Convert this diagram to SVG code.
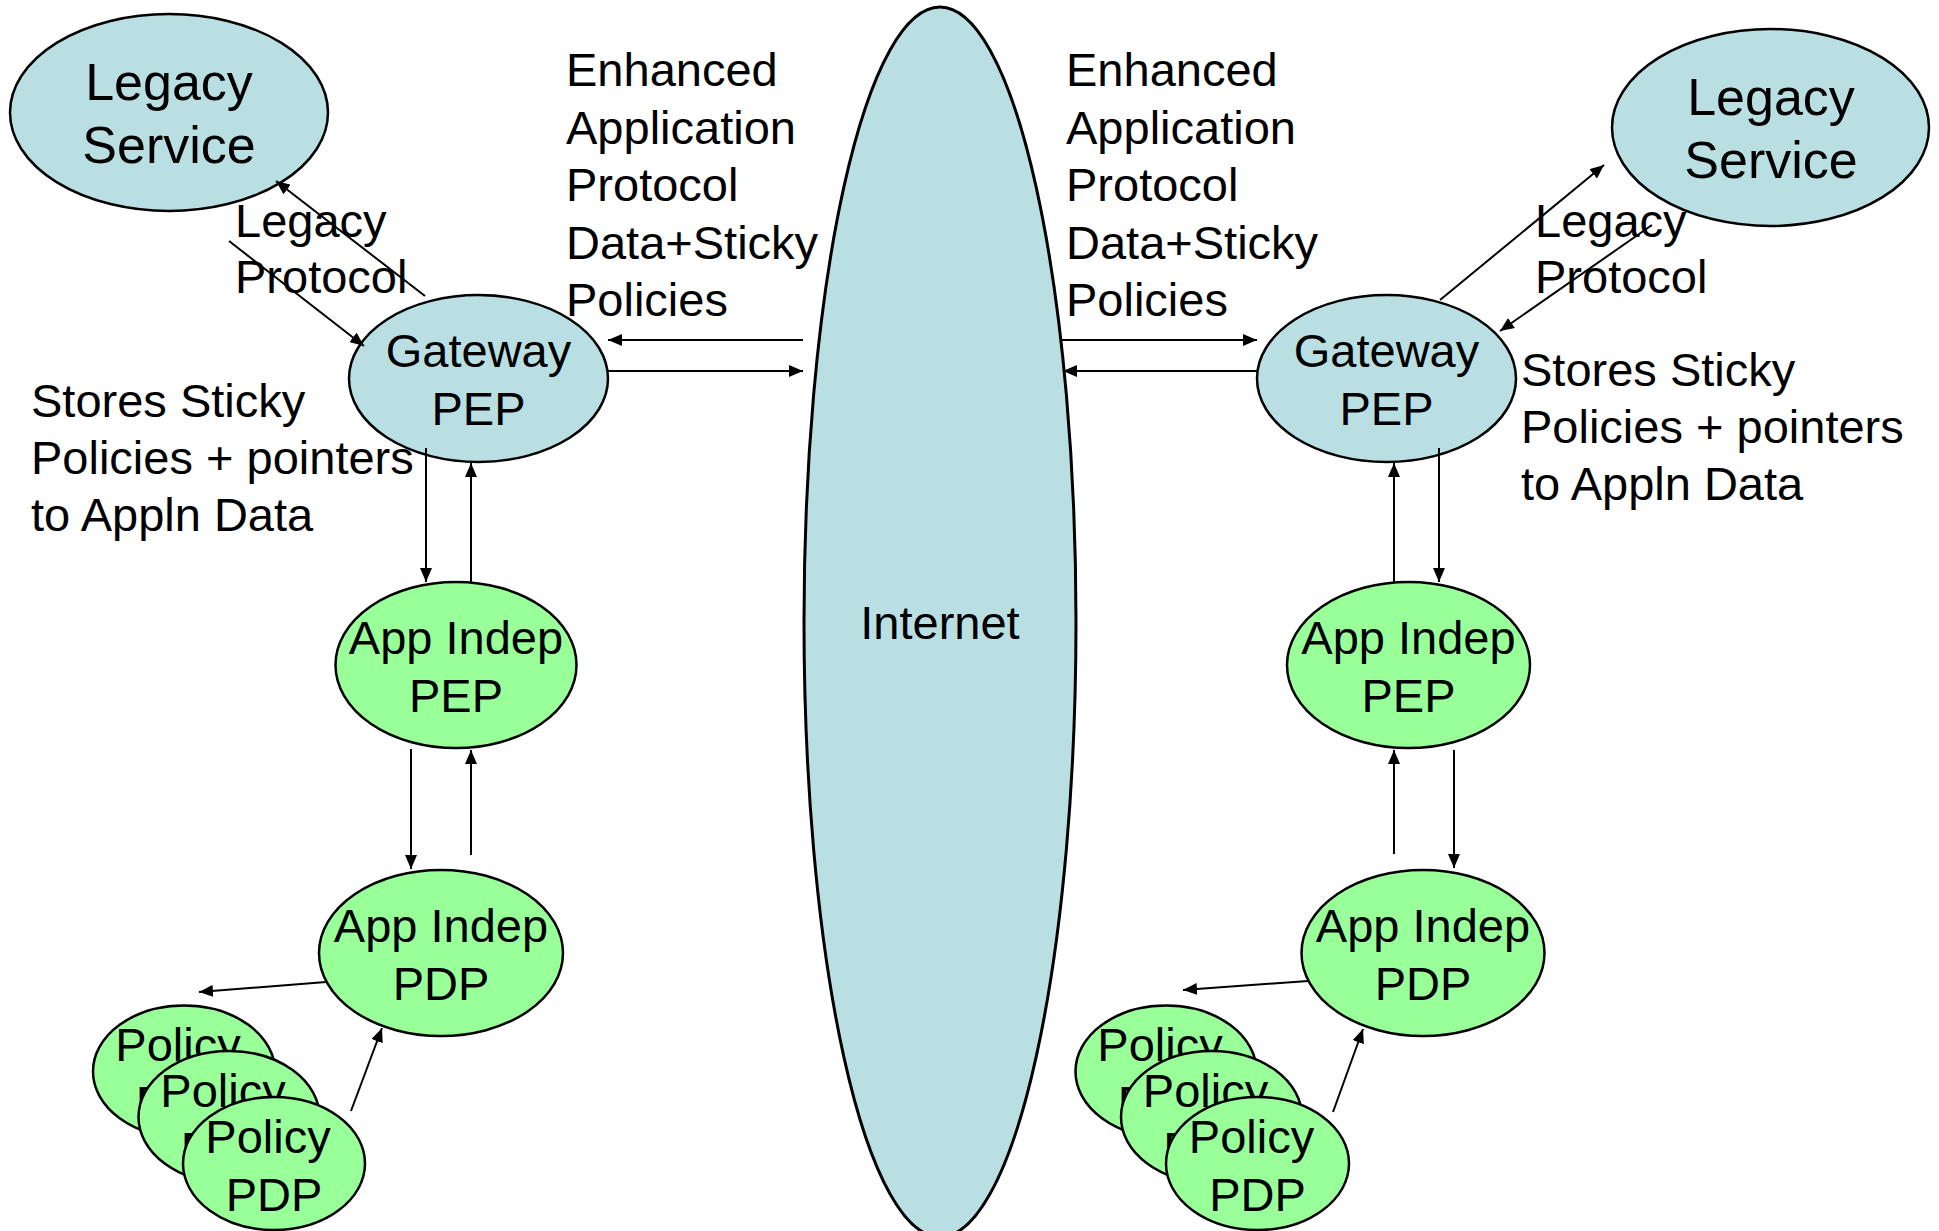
<svg xmlns="http://www.w3.org/2000/svg" width="1939" height="1231" viewBox="0 0 1939 1231">
<style>
  .blue { fill: #BADFE3; stroke: #000; stroke-width: 2.5; }
  .green { fill: #99FF99; stroke: #000; stroke-width: 2.5; }
  text { font-family: "Liberation Sans", Arial, sans-serif; font-size: 47px; fill: #000; }
  .c { text-anchor: middle; }
  .big { font-size: 52px; }
  #connectors line { stroke: #000; stroke-width: 2; fill: none; marker-end: url(#ah); }
</style>
<defs>
  <marker id="ah" markerUnits="userSpaceOnUse" viewBox="0 0 14 12" refX="14" refY="6" markerWidth="14" markerHeight="12" orient="auto">
    <path d="M0,0 L14,6 L0,12 z" fill="#000"/>
  </marker>
</defs>
<rect width="1939" height="1231" fill="#fff"/>

<g id="internet">
  <ellipse class="blue" cx="940" cy="622" rx="136" ry="615" style="stroke-width:3"/>
  <text class="c" x="940" y="639">Internet</text>
</g>

<!-- Left side nodes -->
<g id="legacy-service-left">
  <ellipse class="blue" cx="169" cy="112.5" rx="159" ry="98.5"/>
  <text class="c big" x="169" y="100">Legacy</text>
  <text class="c big" x="169" y="163">Service</text>
</g>
<g id="gateway-pep-left">
  <ellipse class="blue" cx="478.5" cy="378.5" rx="129.5" ry="83.5"/>
  <text class="c" x="478.5" y="367">Gateway</text>
  <text class="c" x="478.5" y="425">PEP</text>
</g>
<g id="app-indep-pep-left">
  <ellipse class="green" cx="456" cy="665" rx="120.5" ry="83"/>
  <text class="c" x="456" y="654">App Indep</text>
  <text class="c" x="456" y="712">PEP</text>
</g>
<g id="app-indep-pdp-left">
  <ellipse class="green" cx="441" cy="953" rx="122" ry="83"/>
  <text class="c" x="441" y="942">App Indep</text>
  <text class="c" x="441" y="1000">PDP</text>
</g>
<g id="policy-pdp-left-1">
  <ellipse class="green" cx="184" cy="1071.5" rx="91" ry="66"/>
  <text class="c" x="178" y="1061">Policy</text>
  <text class="c" x="184" y="1119">PDP</text>
</g>
<g id="policy-pdp-left-2">
  <ellipse class="green" cx="229" cy="1117" rx="90.5" ry="66"/>
  <text class="c" x="223" y="1107">Policy</text>
  <text class="c" x="229" y="1165">PDP</text>
</g>
<g id="policy-pdp-left-3">
  <ellipse class="green" cx="274" cy="1163.5" rx="91" ry="66.5"/>
  <text class="c" x="268" y="1153">Policy</text>
  <text class="c" x="274" y="1211">PDP</text>
</g>

<!-- Right side nodes -->
<g id="legacy-service-right">
  <ellipse class="blue" cx="1770.5" cy="127.5" rx="158.5" ry="98.5"/>
  <text class="c big" x="1771" y="115">Legacy</text>
  <text class="c big" x="1771" y="178">Service</text>
</g>
<g id="gateway-pep-right">
  <ellipse class="blue" cx="1386.5" cy="378.5" rx="129.5" ry="83.5"/>
  <text class="c" x="1386.5" y="367">Gateway</text>
  <text class="c" x="1386.5" y="425">PEP</text>
</g>
<g id="app-indep-pep-right">
  <ellipse class="green" cx="1408.5" cy="665" rx="121.5" ry="83"/>
  <text class="c" x="1408.5" y="654">App Indep</text>
  <text class="c" x="1408.5" y="712">PEP</text>
</g>
<g id="app-indep-pdp-right">
  <ellipse class="green" cx="1423" cy="953" rx="121.5" ry="83"/>
  <text class="c" x="1423" y="942">App Indep</text>
  <text class="c" x="1423" y="1000">PDP</text>
</g>
<g id="policy-pdp-right-1">
  <ellipse class="green" cx="1166" cy="1071.5" rx="90.5" ry="66"/>
  <text class="c" x="1160" y="1061">Policy</text>
  <text class="c" x="1166" y="1119">PDP</text>
</g>
<g id="policy-pdp-right-2">
  <ellipse class="green" cx="1211.5" cy="1117" rx="90.5" ry="66"/>
  <text class="c" x="1205.5" y="1107">Policy</text>
  <text class="c" x="1211.5" y="1165">PDP</text>
</g>
<g id="policy-pdp-right-3">
  <ellipse class="green" cx="1257.5" cy="1163.5" rx="91.5" ry="66.5"/>
  <text class="c" x="1251.5" y="1153">Policy</text>
  <text class="c" x="1257.5" y="1211">PDP</text>
</g>

<!-- Free labels -->
<g id="labels">
  <text x="566" y="86">Enhanced</text>
  <text x="566" y="143.5">Application</text>
  <text x="566" y="201">Protocol</text>
  <text x="566" y="258.5">Data+Sticky</text>
  <text x="566" y="316">Policies</text>

  <text x="1066" y="86">Enhanced</text>
  <text x="1066" y="143.5">Application</text>
  <text x="1066" y="201">Protocol</text>
  <text x="1066" y="258.5">Data+Sticky</text>
  <text x="1066" y="316">Policies</text>

  <text x="235" y="237">Legacy</text>
  <text x="235" y="293">Protocol</text>

  <text x="1535" y="237">Legacy</text>
  <text x="1535" y="293">Protocol</text>

  <text x="31" y="417">Stores Sticky</text>
  <text x="31" y="474">Policies + pointers</text>
  <text x="31" y="531">to Appln Data</text>

  <text x="1521" y="386">Stores Sticky</text>
  <text x="1521" y="443">Policies + pointers</text>
  <text x="1521" y="500">to Appln Data</text>
</g>

<g id="connectors">
  <!-- left -->
  <line x1="425" y1="296" x2="276" y2="181"/>
  <line x1="229" y1="241" x2="364" y2="346"/>
  <line x1="803" y1="340" x2="608" y2="340"/>
  <line x1="608" y1="371" x2="803" y2="371"/>
  <line x1="426" y1="448" x2="426" y2="582"/>
  <line x1="471" y1="582" x2="471" y2="463"/>
  <line x1="411" y1="749" x2="411" y2="869"/>
  <line x1="471" y1="855" x2="471" y2="750"/>
  <line x1="326" y1="982" x2="199" y2="992"/>
  <line x1="351" y1="1111" x2="382" y2="1028"/>
  <!-- right -->
  <line x1="1440" y1="300" x2="1604" y2="165"/>
  <line x1="1652" y1="225" x2="1500" y2="331"/>
  <line x1="1061" y1="340" x2="1257" y2="340"/>
  <line x1="1257" y1="371" x2="1063" y2="371"/>
  <line x1="1439" y1="448" x2="1439" y2="582"/>
  <line x1="1394" y1="582" x2="1394" y2="463"/>
  <line x1="1394" y1="854" x2="1394" y2="750"/>
  <line x1="1454" y1="750" x2="1454" y2="868"/>
  <line x1="1308" y1="981" x2="1183" y2="990"/>
  <line x1="1333" y1="1112" x2="1363" y2="1029"/>
</g>
</svg>
